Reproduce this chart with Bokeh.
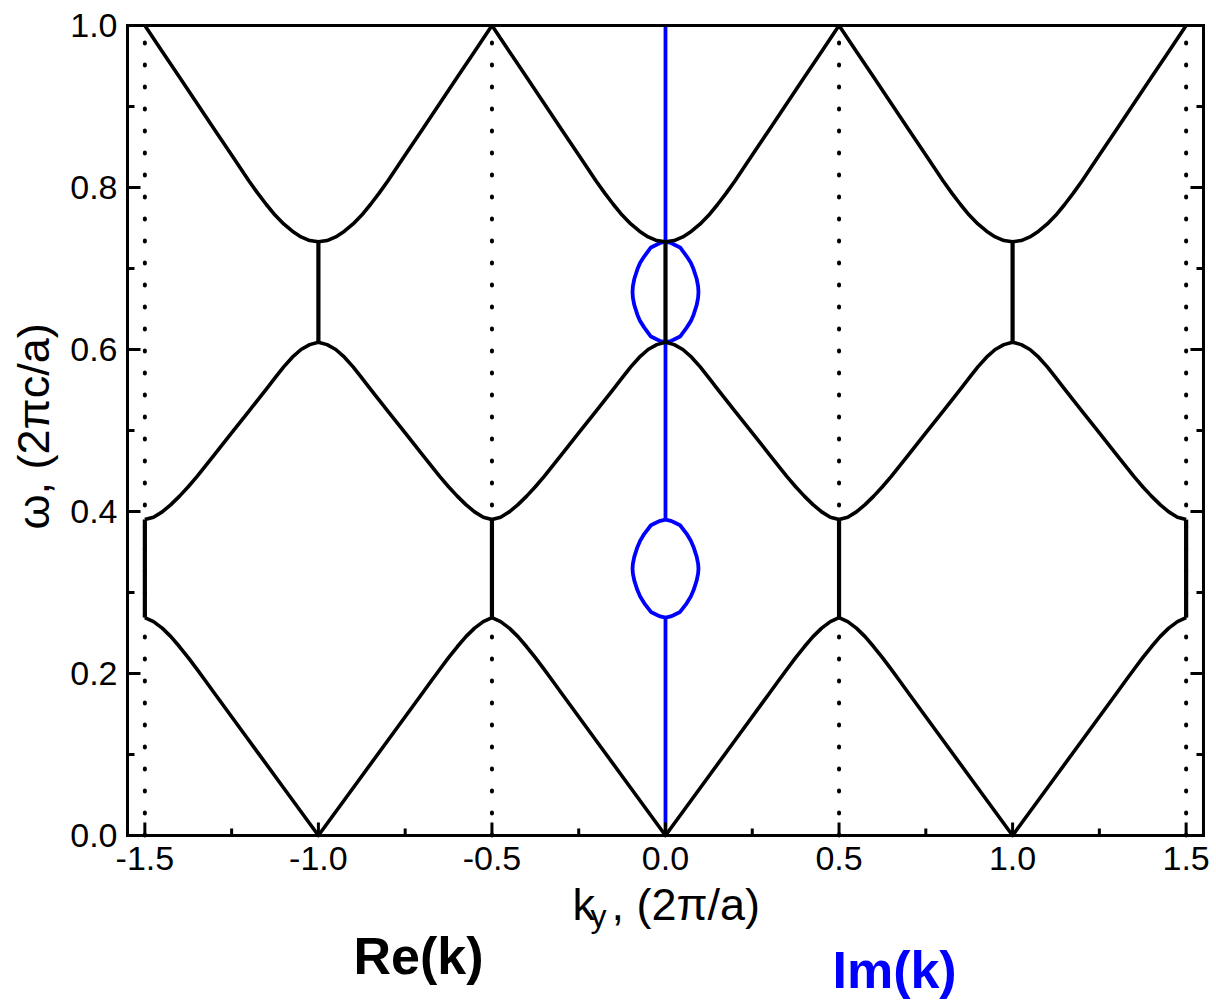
import numpy as np
from bokeh.plotting import figure
from bokeh.models import Range1d
from bokeh.core.properties import value
from bokeh.embed import file_html
from bokeh.resources import INLINE

# Reduced-zone bands, k_y in [0, 0.5] (2π/a), ω in (2πc/a)
band1_k = [0.0, 0.1, 0.2, 0.3, 0.325, 0.35, 0.375, 0.4, 0.425, 0.45, 0.475, 0.5]
band1_w = [0.0, 0.0587, 0.1173, 0.176, 0.1907, 0.2053, 0.2195, 0.233, 0.2455, 0.256, 0.264, 0.269]

band2_k = [0.0, 0.025, 0.05, 0.075, 0.1, 0.125, 0.15, 0.175, 0.2, 0.25, 0.3, 0.35,
           0.375, 0.4, 0.425, 0.45, 0.475, 0.5]
band2_w = [0.609, 0.606, 0.600, 0.5905, 0.5785, 0.565, 0.551, 0.5375, 0.524, 0.497, 0.470, 0.443,
           0.4305, 0.419, 0.4085, 0.3995, 0.393, 0.390]

band3_k = [0.0, 0.025, 0.05, 0.075, 0.1, 0.125, 0.15, 0.175, 0.2, 0.225, 0.25, 0.3,
           0.35, 0.4, 0.45, 0.5]
band3_w = [0.733, 0.7345, 0.739, 0.746, 0.755, 0.766, 0.779, 0.793, 0.808, 0.824, 0.840, 0.872,
           0.904, 0.936, 0.968, 1.0]

# Band gaps (ω range) and the Re(k) positions where they sit
gap1 = [0.269, 0.390]
gap1_k = [-1.5, -0.5, 0.5, 1.5]
gap2 = [0.609, 0.733]
gap2_k = [-1.0, 0.0, 1.0]

# Im(k) inside the gaps (half loop, the other half is its mirror)
loop1_w = [0.269, 0.2705, 0.272, 0.276, 0.2866, 0.295, 0.303, 0.315, 0.3237, 0.3295,
           0.3353, 0.344, 0.356, 0.364, 0.3724, 0.383, 0.387, 0.3885, 0.390]
loop1_im = [0.0, 0.015, 0.023, 0.042, 0.061, 0.073, 0.081, 0.090, 0.094, 0.095,
            0.094, 0.090, 0.081, 0.073, 0.061, 0.042, 0.023, 0.015, 0.0]
loop2_w = [0.609, 0.6105, 0.612, 0.616, 0.627, 0.635, 0.643, 0.655, 0.664, 0.671,
           0.678, 0.687, 0.699, 0.707, 0.715, 0.726, 0.730, 0.7315, 0.733]
loop2_im = [0.0, 0.015, 0.023, 0.042, 0.061, 0.073, 0.081, 0.090, 0.094, 0.095,
            0.094, 0.090, 0.081, 0.073, 0.061, 0.042, 0.023, 0.015, 0.0]

# Brillouin zone boundaries
zone_edges = [-1.5, -0.5, 0.5, 1.5]
zone_shifts = [-1.0, 0.0, 1.0]

x_ticks = [-1.5, -1.0, -0.5, 0.0, 0.5, 1.0, 1.5]
x_minor = [-1.25, -0.75, -0.25, 0.25, 0.75, 1.25]
y_ticks = [0.0, 0.2, 0.4, 0.6, 0.8, 1.0]
y_minor = [0.1, 0.3, 0.5, 0.7, 0.9]

# Axes box, and the canvas extent around it (room for tick labels and titles)
K_MIN, K_MAX = -1.55, 1.55
W_MIN, W_MAX = 0.0, 1.0
VIEW_X = (-1.9159, 1.5875)
VIEW_Y = (-0.20741, 1.03086)

FONT = value("Liberation Sans")
BLUE = "#0000ff"

p = figure(width=1216, height=1003, x_range=Range1d(*VIEW_X), y_range=Range1d(*VIEW_Y),
           output_backend="svg", toolbar_location=None, title=None,
           x_axis_location=None, y_axis_location=None,
           min_border=0, min_border_left=0, min_border_right=0, min_border_top=0, min_border_bottom=0,
           background_fill_color="white", border_fill_color="white")
p.xgrid.visible = False
p.ygrid.visible = False
p.outline_line_color = None

# Im(k): blue line along k=0 outside the gaps, loops inside the gaps
p.segment(x0=[0.0, 0.0, 0.0], y0=[W_MIN, gap1[1], gap2[1]],
          x1=[0.0, 0.0, 0.0], y1=[gap1[0], gap2[0], W_MAX],
          line_color=BLUE, line_width=3.8)
for lw, lim in ((loop1_w, loop1_im), (loop2_w, loop2_im)):
    im = np.array(lim)
    w = np.array(lw)
    xs = np.concatenate([im, -im[::-1]])
    ys = np.concatenate([w, w[::-1]])
    p.line(xs, ys, line_color=BLUE, line_width=3.8, line_join="round")

# Zone boundaries
p.segment(x0=zone_edges, y0=[W_MIN] * len(zone_edges), x1=zone_edges, y1=[W_MAX] * len(zone_edges),
          line_color="black", line_width=4, line_dash="1 21", line_cap="round")

# Re(k): bands unfolded over three zones
xs_all, ys_all = [], []
for bk, bw in ((band1_k, band1_w), (band2_k, band2_w), (band3_k, band3_w)):
    k = np.array(bk)
    w = np.array(bw)
    kf = np.concatenate([-k[::-1], k[1:]])
    wf = np.concatenate([w[::-1], w[1:]])
    for s in zone_shifts:
        xs_all.append(list(kf + s))
        ys_all.append(list(wf))
p.multi_line(xs_all, ys_all, line_color="black", line_width=3.6, line_join="round")

# Gaps: Re(k) pinned at the zone edge / centre
p.segment(x0=gap1_k, y0=[gap1[0]] * len(gap1_k), x1=gap1_k, y1=[gap1[1]] * len(gap1_k),
          line_color="black", line_width=4.2)
p.segment(x0=gap2_k, y0=[gap2[0]] * len(gap2_k), x1=gap2_k, y1=[gap2[1]] * len(gap2_k),
          line_color="black", line_width=4.2)

# Axes box
p.quad(left=[K_MIN], right=[K_MAX], bottom=[W_MIN], top=[W_MAX],
       fill_color=None, line_color="black", line_width=3, line_join="miter")

# Inward ticks: bottom, left, right
p.ray(x=x_ticks, y=[W_MIN] * len(x_ticks), length=13, angle=np.pi / 2, length_units="screen",
      line_color="black", line_width=3)
p.ray(x=x_minor, y=[W_MIN] * len(x_minor), length=7, angle=np.pi / 2, length_units="screen",
      line_color="black", line_width=3)
for x_edge, ang in ((K_MIN, 0.0), (K_MAX, np.pi)):
    p.ray(x=[x_edge] * len(y_ticks), y=y_ticks, length=13, angle=ang, length_units="screen",
          line_color="black", line_width=3)
    p.ray(x=[x_edge] * len(y_minor), y=y_minor, length=7, angle=ang, length_units="screen",
          line_color="black", line_width=3)

# Tick labels
p.text(x=x_ticks, y=[W_MIN] * len(x_ticks), text=["%.1f" % t for t in x_ticks],
       text_font=FONT, text_font_size="34px", text_color="black",
       text_align="center", text_baseline="alphabetic", y_offset=23)
p.text(x=[K_MIN] * len(y_ticks), y=y_ticks, text=["%.1f" % t for t in y_ticks],
       text_font=FONT, text_font_size="34px", text_color="black",
       text_align="right", text_baseline="middle", x_offset=-10)

# Axis titles
p.text(x=[-1.8209], y=[0.505], text=["ω, (2πc/a)"], angle=np.pi / 2,
       text_font=FONT, text_font_size="45px", text_color="black",
       text_align="center", text_baseline="alphabetic")
p.text(x=[-0.268, -0.1556], y=[-0.0852, -0.0852], text=["k", ", (2π/a)"],
       text_font=FONT, text_font_size="45px", text_color="black",
       text_align="left", text_baseline="alphabetic")
p.text(x=[-0.216], y=[-0.1000], text=["y"],
       text_font=FONT, text_font_size="32px", text_color="black",
       text_align="left", text_baseline="alphabetic")

# Re / Im captions
p.text(x=[-0.899], y=[-0.1493], text=["Re(k)"],
       text_font=FONT, text_font_size="52px", text_font_style="bold", text_color="black",
       text_align="left", text_baseline="alphabetic")
p.text(x=[0.481], y=[-0.1666], text=["Im(k)"],
       text_font=FONT, text_font_size="52px", text_font_style="bold", text_color=BLUE,
       text_align="left", text_baseline="alphabetic")

open("out.html", "w").write(file_html(p, INLINE))
